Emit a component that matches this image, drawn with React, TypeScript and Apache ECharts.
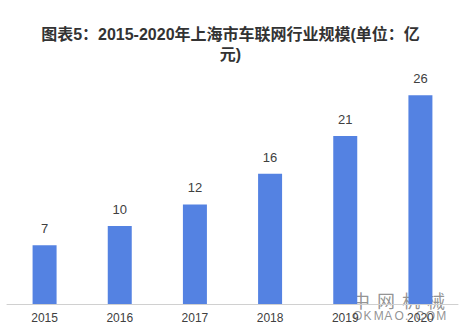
import React, { useEffect, useRef } from "react";
import * as echarts from "echarts";

const categories = ["2015", "2016", "2017", "2018", "2019", "2020"];
const values = [7.3, 9.7, 12.4, 16.2, 20.9, 26];
const titleText = "图表5：2015-2020年上海市车联网行业规模(单位：亿\n元)";
const watermarkCn = ["中", "网", "机", "械"];
const watermarkEn = ["O", "K", "M", "A", "O", ".", "C", "O", "M"];

export default function App() {
  const ref = useRef<HTMLDivElement>(null);
  useEffect(() => {
    if (!ref.current) return;
    const chart = echarts.init(ref.current, null, { renderer: "svg" });
    const wmColor = "rgba(100,100,100,0.7)";
    const cnMarks = watermarkCn.map((t, i) => ({
      type: "text",
      x: 352 + i * 25,
      y: 291,
      style: { text: t, fontSize: 18, fill: wmColor, fontFamily: "'Noto Sans CJK SC', sans-serif" },
    }));
    const enMarks = watermarkEn.map((t, i) => ({
      type: "text",
      x: 353 + i * 10.4,
      y: 310,
      style: { text: t, fontSize: 12, fill: wmColor, fontFamily: "'Liberation Sans', Arial, sans-serif" },
    }));
    chart.setOption({
      animation: false,
      backgroundColor: "#ffffff",
      title: {
        text: titleText,
        left: "center",
        top: 19,
        textStyle: {
          fontSize: 16,
          fontWeight: "bold",
          color: "#333333",
          lineHeight: 20,
          align: "center",
          fontFamily: "'Liberation Sans', 'Noto Sans CJK SC', sans-serif",
        },
      },
      grid: { left: 7, right: 3, top: 63, bottom: 32, containLabel: false },
      xAxis: {
        type: "category",
        data: categories,
        axisLine: { show: true, lineStyle: { color: "#d0d0d0", width: 1 } },
        axisTick: { show: false },
        axisLabel: {
          color: "#404040",
          fontSize: 12,
          margin: 8,
          fontFamily: "'Liberation Sans', Arial, sans-serif",
        },
      },
      yAxis: {
        type: "value",
        min: 0,
        max: 30,
        show: false,
        splitLine: { show: false },
      },
      series: [
        {
          type: "bar",
          data: values,
          barWidth: 24,
          itemStyle: { color: "#5482e2" },
          label: {
            show: true,
            position: "top",
            distance: 10,
            color: "#404040",
            fontSize: 13,
            fontFamily: "'Liberation Sans', Arial, sans-serif",
            formatter: (p: any) => String(Math.round(p.value)),
          },
        },
      ],
      graphic: [...cnMarks, ...enMarks],
    });
    return () => chart.dispose();
  }, []);
  return <div ref={ref} style={{ width: 461, height: 336, position: "absolute", left: 0, top: 0 }} />;
}
